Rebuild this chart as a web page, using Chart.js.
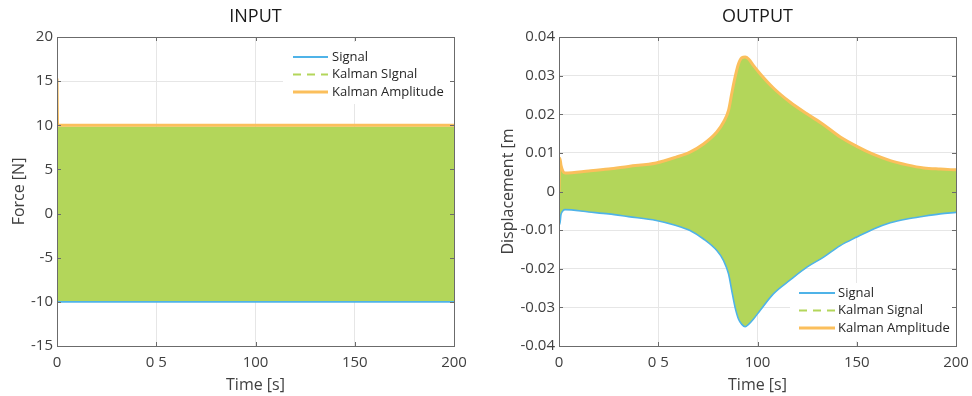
<!DOCTYPE html>
<html><head><meta charset="utf-8">
<script src="https://cdn.jsdelivr.net/npm/chart.js@4.4.0/dist/chart.umd.min.js"></script>
<style>
html,body{margin:0;padding:0;background:#fff;}
#wrap{display:flex;width:972px;height:396px;}
.box{position:relative;width:486px;height:396px;}
canvas{display:block;}
</style></head><body>
<div id="wrap"><div class="box"><canvas id="c1" width="486" height="396"></canvas></div><div class="box"><canvas id="c2" width="486" height="396"></canvas></div></div>
<script>
// ---- tick labels ----
const xTickValues = [0, 50, 100, 150, 200];
const xTickLabels = ['0', '0 5', '100', '150', '200'];
const inYTickValues = [-15, -10, -5, 0, 5, 10, 15, 20];
const inYTickLabels = ['-15', '-10', '-5', '0', '5', '10', '15', '20'];
const outYTickValues = [-0.04, -0.03, -0.02, -0.01, 0, 0.01, 0.02, 0.03, 0.04];
const outYTickLabels = ['-0.04', '-0.03', '-0.02', '-0.01', '0', '0.01', '0.02', '0.03', '0.04'];

// ---- legend labels ----
const inLegendLabels = ['Signal', 'Kalman SIgnal', 'Kalman Amplitude'];
const outLegendLabels = ['Signal', 'Kalman Signal', 'Kalman Amplitude'];

// ---- INPUT data (envelopes of the dense oscillation) ----
const inAmpTime = [0, 0.3, 200];
const inAmplitude = [15.3, 10, 10];
const inTime = [0, 200];
const inKalmanUpper = [9.8, 9.8];
const inSignalLower = [-10, -10];

// ---- OUTPUT data (envelopes) ----
const outTime = [0, 0.4, 1, 2, 3, 15, 25, 35, 49, 59, 66, 72.8, 79.5, 82.9, 85.4, 87, 88.7, 90.4, 92.1, 93.8, 95.5, 98, 101.3, 108, 116.5, 124.9, 133.3, 141.7, 150, 158.5, 166.9, 175.3, 183.7, 192, 200];
const outAmplitude = [0.0, 0.0086, 0.0068, 0.0052, 0.0048, 0.0053, 0.0058, 0.0065, 0.0074, 0.0089, 0.0102, 0.0123, 0.0154, 0.018, 0.021, 0.0253, 0.0296, 0.033, 0.0346, 0.0348, 0.0343, 0.0326, 0.0305, 0.0268, 0.0231, 0.0201, 0.0173, 0.0141, 0.0117, 0.0096, 0.008, 0.0069, 0.0061, 0.0058, 0.0056];
const outKalmanUpper = [0.004, 0.0075, 0.0062, 0.0050, 0.0046, 0.0051, 0.0056, 0.0063, 0.0072, 0.0087, 0.0100, 0.0121, 0.0152, 0.0178, 0.0208, 0.0251, 0.0294, 0.0328, 0.0344, 0.0346, 0.0341, 0.0324, 0.0303, 0.0266, 0.0229, 0.0199, 0.0171, 0.0139, 0.0115, 0.0094, 0.0078, 0.0067, 0.0059, 0.0056, 0.0054];
const outSignalLower = [-0.004, -0.0085, -0.006, -0.005, -0.0047, -0.0053, -0.0058, -0.0065, -0.0075, -0.0088, -0.0101, -0.0123, -0.0153, -0.0179, -0.0213, -0.0256, -0.03, -0.033, -0.0344, -0.035, -0.0344, -0.033, -0.0308, -0.0265, -0.0229, -0.0196, -0.017, -0.014, -0.0118, -0.0097, -0.0081, -0.0071, -0.0064, -0.0058, -0.0054];

const BLUE = '#4fb3e8', GREEN = '#b3d65a', ORANGE = '#fbbf5c';
const FONT = '"Open Sans", "DejaVu Sans", sans-serif';
const zip = (xs, ys) => xs.map((x, i) => ({x: x, y: ys[i]}));

const framePlugin = {
  id: 'frameLegend',
  afterDatasetsDraw(chart, args, opts) {
    const ctx = chart.ctx, a = chart.chartArea;
    ctx.save();
    // title centred over the plot area
    ctx.fillStyle = '#1a1a1a';
    ctx.font = '18px ' + FONT;
    ctx.textAlign = 'center';
    ctx.textBaseline = 'middle';
    ctx.fillText(opts.title, (a.left + a.right) / 2, 17);
    // legend
    const L = opts.legend;
    ctx.fillStyle = '#fff';
    ctx.fillRect(L.x, L.y, L.w, L.h);
    const styles = [
      {color: BLUE, dash: [], width: 2},
      {color: GREEN, dash: [8, 6], width: 2},
      {color: ORANGE, dash: [], width: 3}
    ];
    L.labels.forEach((lab, i) => {
      const y = L.rowY[i];
      ctx.strokeStyle = styles[i].color;
      ctx.lineWidth = styles[i].width;
      ctx.setLineDash(styles[i].dash);
      ctx.beginPath();
      ctx.moveTo(L.lx1, y); ctx.lineTo(L.lx2, y);
      ctx.stroke();
      ctx.setLineDash([]);
      ctx.fillStyle = '#262626';
      ctx.font = '13px ' + FONT;
      ctx.textBaseline = 'middle';
      ctx.textAlign = 'left';
      ctx.fillText(lab, L.tx, y);
    });
    // frame
    ctx.strokeStyle = '#6b6b6b';
    ctx.lineWidth = 1;
    ctx.strokeRect(Math.round(a.left) + 0.5, Math.round(a.top) + 0.5, Math.round(a.right - a.left), Math.round(a.bottom - a.top));
    const tl = 4;
    const xs = chart.scales.x, ys = chart.scales.y;
    ctx.beginPath();
    xs.ticks.forEach(t => {
      const px = Math.round(xs.getPixelForValue(t.value)) + 0.5;
      ctx.moveTo(px, a.bottom); ctx.lineTo(px, a.bottom - tl);
      ctx.moveTo(px, a.top); ctx.lineTo(px, a.top + tl);
    });
    ys.ticks.forEach(t => {
      const py = Math.round(ys.getPixelForValue(t.value)) + 0.5;
      ctx.moveTo(a.left, py); ctx.lineTo(a.left + tl, py);
      ctx.moveTo(a.right, py); ctx.lineTo(a.right - tl, py);
    });
    ctx.stroke();
    ctx.restore();
  }
};

function makeChart(id, c) {
  return new Chart(document.getElementById(id), {
    type: 'line',
    data: {datasets: [
      {label: c.legendLabels[2], data: zip(c.ampT, c.amp), borderColor: ORANGE, borderWidth: 3, pointRadius: 0, fill: false, order: 0, cubicInterpolationMode: 'monotone'},
      {label: c.legendLabels[0], data: zip(c.t, c.lower), borderColor: BLUE, borderWidth: 1.6, pointRadius: 0, fill: false, order: 1, cubicInterpolationMode: 'monotone'},
      {label: c.legendLabels[1], data: zip(c.t, c.upper), borderColor: GREEN, borderWidth: 1, backgroundColor: GREEN, pointRadius: 0, fill: 1, order: 2, cubicInterpolationMode: 'monotone'}
    ]},
    options: {
      responsive: false, animation: false, devicePixelRatio: 1,
      layout: {padding: {left: 7, right: c.padR, top: 37, bottom: 0}},
      plugins: {
        legend: {display: false}, tooltip: {enabled: false}, title: {display: false},
        frameLegend: {legend: c.legend, title: c.title}
      },
      scales: {
        x: {
          type: 'linear', min: 0, max: 200,
          afterBuildTicks: s => { s.ticks = xTickValues.map(v => ({value: v})); },
          afterFit: s => { s.height = 50; s.paddingLeft = 0; s.paddingRight = 0; },
          ticks: {callback: (v, i) => xTickLabels[i], color: '#404040', font: {family: FONT, size: 15}, padding: 8, maxRotation: 0},
          grid: {color: '#e6e6e6', drawTicks: false},
          border: {display: false},
          title: {display: true, text: 'Time [s]', color: '#404040', font: {family: FONT, size: 16}, padding: {top: 0, bottom: 1}}
        },
        y: {
          type: 'linear', min: c.yMin, max: c.yMax,
          afterBuildTicks: s => { s.ticks = c.yTicks.map(v => ({value: v})); },
          afterFit: s => { s.width = c.yW; s.paddingTop = 0; s.paddingBottom = 0; },
          ticks: {callback: (v, i) => c.yLabels[i], color: '#404040', font: {family: FONT, size: 15}, padding: 4},
          grid: {color: '#e6e6e6', drawTicks: false},
          border: {display: false},
          title: {display: true, text: c.yTitle, color: '#404040', font: {family: FONT, size: 16}, padding: {top: c.yTitlePad, bottom: 0}}
        }
      }
    },
    plugins: [framePlugin]
  });
}

makeChart('c1', {
  title: 'INPUT', yTitle: 'Force [N]', yTitlePad: 3,
  ampT: inAmpTime, amp: inAmplitude, t: inTime, upper: inKalmanUpper, lower: inSignalLower,
  yMin: -15, yMax: 20, yTicks: inYTickValues, yLabels: inYTickLabels, yW: 50, padR: 32,
  legendLabels: inLegendLabels,
  legend: {labels: inLegendLabels, x: 283, y: 42, w: 169, h: 62, rowY: [57, 74.5, 92], lx1: 293, lx2: 328, tx: 332}
});
makeChart('c2', {
  title: 'OUTPUT', yTitle: 'Displacement [m', yTitlePad: 6,
  ampT: outTime, amp: outAmplitude, t: outTime, upper: outKalmanUpper, lower: outSignalLower,
  yMin: -0.04, yMax: 0.04, yTicks: outYTickValues, yLabels: outYTickLabels, yW: 66, padR: 16,
  legendLabels: outLegendLabels,
  legend: {labels: outLegendLabels, x: 304, y: 283, w: 165, h: 58, rowY: [293, 310.5, 328], lx1: 313, lx2: 349, tx: 352}
});
</script>
</body></html>
